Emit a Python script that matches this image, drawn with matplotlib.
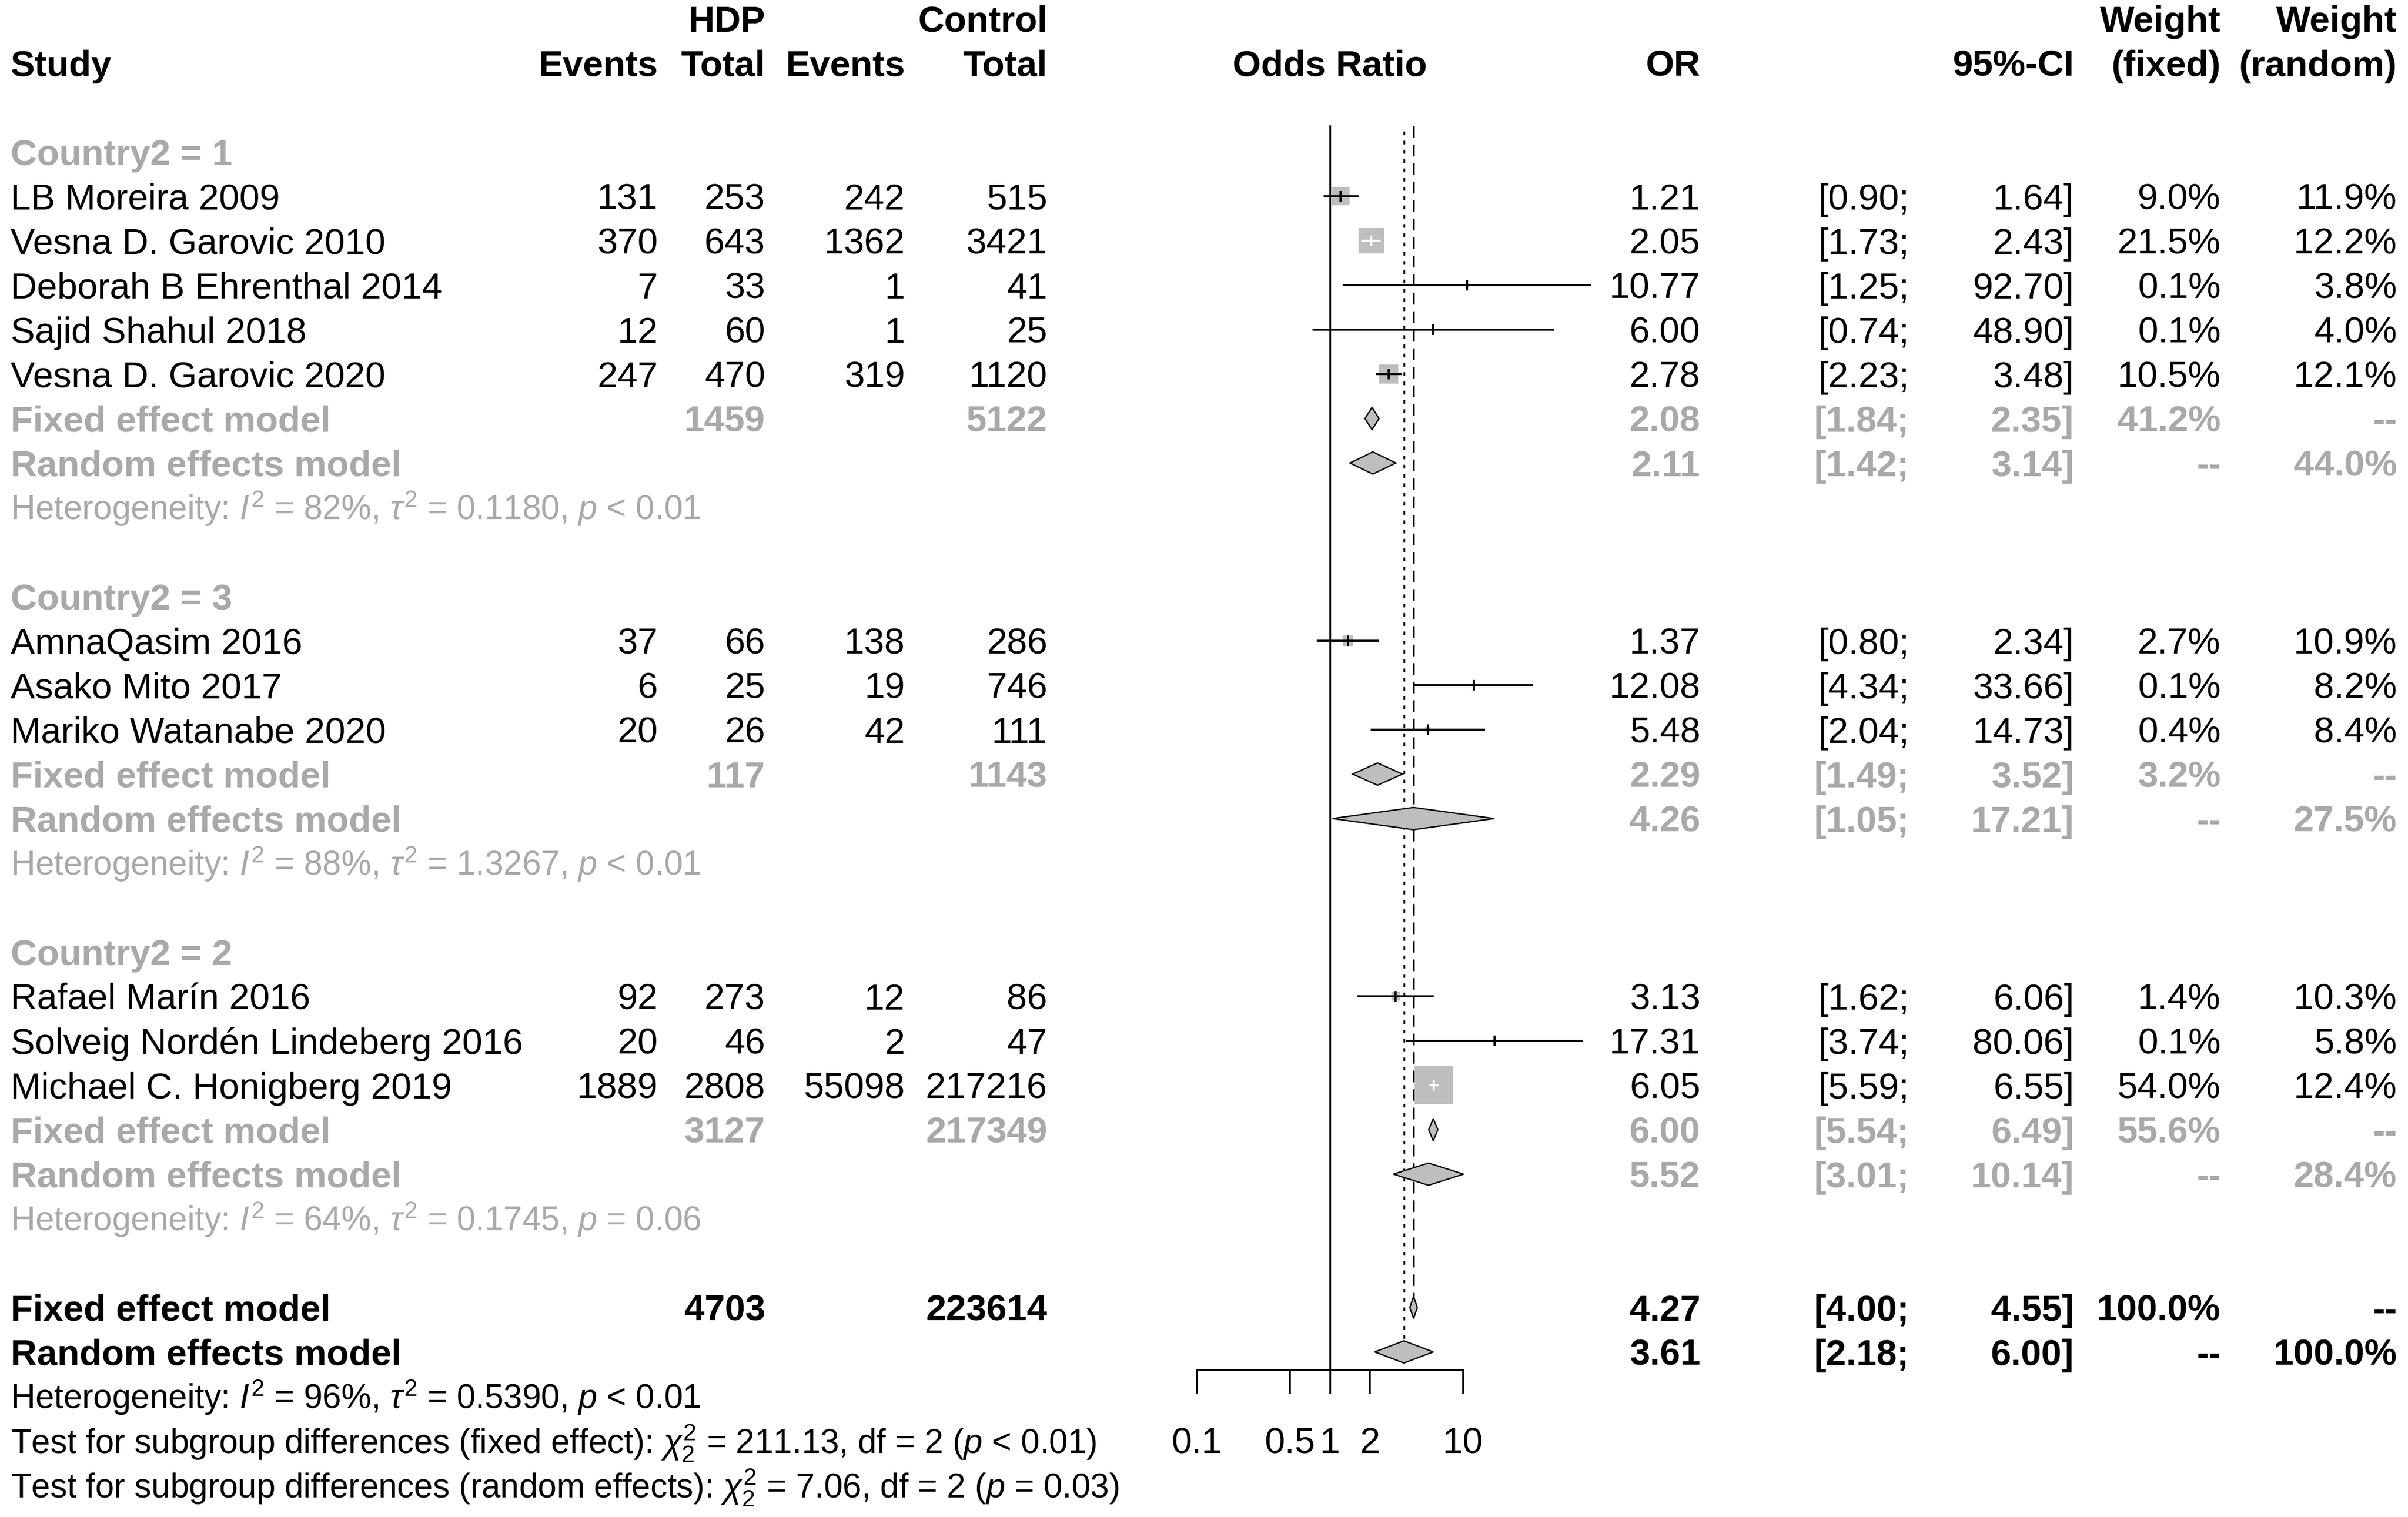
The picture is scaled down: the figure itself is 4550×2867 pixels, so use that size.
import matplotlib
matplotlib.use("Agg")
import matplotlib.pyplot as plt
from matplotlib.patches import Polygon
from matplotlib.ticker import NullLocator
import numpy as np

plt.rcParams['font.family'] = ['Liberation Sans', 'DejaVu Sans']
plt.rcParams['mathtext.fontset'] = 'custom'
plt.rcParams['mathtext.rm'] = 'Liberation Sans'
plt.rcParams['mathtext.it'] = 'Liberation Sans:italic'
plt.rcParams['mathtext.bf'] = 'Liberation Sans:bold'
plt.rcParams['lines.scale_dashes'] = False

# ---------------- data ----------------
studies = ["LB Moreira 2009", "Vesna D. Garovic 2010", "Deborah B Ehrenthal 2014",
           "Sajid Shahul 2018", "Vesna D. Garovic 2020",
           "AmnaQasim 2016", "Asako Mito 2017", "Mariko Watanabe 2020",
           "Rafael Marín 2016", "Solveig Nordén Lindeberg 2016", "Michael C. Honigberg 2019"]
study_group = [0, 0, 0, 0, 0, 1, 1, 1, 2, 2, 2]
hdp_events = [131, 370, 7, 12, 247, 37, 6, 20, 92, 20, 1889]
hdp_total = [253, 643, 33, 60, 470, 66, 25, 26, 273, 46, 2808]
ctrl_events = [242, 1362, 1, 1, 319, 138, 19, 42, 12, 2, 55098]
ctrl_total = [515, 3421, 41, 25, 1120, 286, 746, 111, 86, 47, 217216]
or_est = [1.21, 2.05, 10.77, 6.00, 2.78, 1.37, 12.08, 5.48, 3.13, 17.31, 6.05]
ci_lo = [0.90, 1.73, 1.25, 0.74, 2.23, 0.80, 4.34, 2.04, 1.62, 3.74, 5.59]
ci_hi = [1.64, 2.43, 92.70, 48.90, 3.48, 2.34, 33.66, 14.73, 6.06, 80.06, 6.55]
w_fixed = [9.0, 21.5, 0.1, 0.1, 10.5, 2.7, 0.1, 0.4, 1.4, 0.1, 54.0]
w_random = [11.9, 12.2, 3.8, 4.0, 12.1, 10.9, 8.2, 8.4, 10.3, 5.8, 12.4]

sub_labels = ["Country2 = 1", "Country2 = 3", "Country2 = 2"]
sub_hdp_total = [1459, 117, 3127]
sub_ctrl_total = [5122, 1143, 217349]
sub_fix_or = [2.08, 2.29, 6.00]
sub_fix_lo = [1.84, 1.49, 5.54]
sub_fix_hi = [2.35, 3.52, 6.49]
sub_fix_w = [41.2, 3.2, 55.6]
sub_ran_or = [2.11, 4.26, 5.52]
sub_ran_lo = [1.42, 1.05, 3.01]
sub_ran_hi = [3.14, 17.21, 10.14]
sub_ran_w = [44.0, 27.5, 28.4]
sub_i2 = [82, 88, 64]
sub_tau2 = ["0.1180", "1.3267", "0.1745"]
sub_p = ["< 0.01", "< 0.01", "= 0.06"]

all_hdp_total = 4703
all_ctrl_total = 223614
all_fix = [4.27, 4.00, 4.55]
all_ran = [3.61, 2.18, 6.00]
all_i2, all_tau2, all_p = 96, "0.5390", "< 0.01"
test_names = ["fixed effect", "random effects"]
test_chi2 = ["211.13", "7.06"]
test_df = [2, 2]
test_p = ["< 0.01", "= 0.03"]

tick_vals = [0.1, 0.5, 1, 2, 10]
tick_labels = ["0.1", "0.5", "1", "2", "10"]

# ---------------- layout / style ----------------
W, H, DPI = 4550, 2867, 100
FS = 49.6
FS_HET = FS * 11 / 12 * 1.01
ROW0_PX, ROW_PX = 119, 84
GRAY_TXT = "#A9A9A9"
SQ = "#BEBEBE"
DIA = "#BEBEBE"
LW = 2.4
CI_LW = 2.8

fig = plt.figure(figsize=(W / DPI, H / DPI), dpi=DPI)
ytop = -ROW0_PX / ROW_PX
ybot = (H - ROW0_PX) / ROW_PX

ax_t = fig.add_axes([0, 0, 1, 1])
ax_t.set_xlim(0, W)
ax_t.set_ylim(ybot, ytop)
ax_t.axis('off')

PL, PR = 2261, 2764
ax_f = fig.add_axes([PL / W, 0, (PR - PL) / W, 1])
ax_f.patch.set_alpha(0)
ax_f.set_xscale('log')
ax_f.set_xlim(tick_vals[0], tick_vals[-1])
ax_f.set_ylim(ybot, ytop)

C_STUDY, C_EV1, C_TOT1, C_EV2, C_TOT2 = 20, 1243, 1446, 1710, 1979
C_OR, C_LO, C_HI, C_WF, C_WR = 3213, 3607, 3919, 4196, 4529


def txt(x, row, s, ha='right', color='black', bold=False, ax=None, fs=FS):
    off = fs * DPI / 72 * 0.716 / 2 / ROW_PX
    (ax or ax_t).text(x, row + off, s, ha=ha, va='baseline', fontsize=fs,
                      fontweight='bold' if bold else 'normal', color=color)


def stat_cols(row, est, lo, hi, wf, wr, color, bold):
    txt(C_OR, row, f"{est:.2f}", color=color, bold=bold)
    txt(C_LO, row, f"[{lo:.2f};", color=color, bold=bold)
    txt(C_HI, row, f"{hi:.2f}]", color=color, bold=bold)
    txt(C_WF, row, "--" if wf is None else f"{wf:.1f}%", color=color, bold=bold)
    txt(C_WR, row, "--" if wr is None else f"{wr:.1f}%", color=color, bold=bold)


def diamond(row, est, lo, hi):
    ax_f.add_patch(Polygon([[lo, row], [est, row - 0.25], [hi, row], [est, row + 0.25]],
                           closed=True, fc=DIA, ec='black', lw=1.8, clip_on=False, zorder=3))


# header
txt(C_STUDY, 0, "Study", ha='left', bold=True)
txt(C_EV1, 0, "Events", bold=True)
txt(C_TOT1, -1, "HDP", bold=True)
txt(C_TOT1, 0, "Total", bold=True)
txt(C_EV2, 0, "Events", bold=True)
txt(C_TOT2, -1, "Control", bold=True)
txt(C_TOT2, 0, "Total", bold=True)
txt(1, 0, "Odds Ratio", ha='center', bold=True, ax=ax_f)
txt(C_OR, 0, "OR", bold=True)
txt(C_HI, 0, "95%-CI", bold=True)
txt(C_WF, -1, "Weight", bold=True)
txt(C_WF, 0, "(fixed)", bold=True)
txt(C_WR, -1, "Weight", bold=True)
txt(C_WR, 0, "(random)", bold=True)

px_per_dec = (PR - PL) / (np.log10(tick_vals[-1]) - np.log10(tick_vals[0]))

row = 2
for g in range(len(sub_labels)):
    txt(C_STUDY, row, sub_labels[g], ha='left', color=GRAY_TXT, bold=True)
    row += 1
    for i in [k for k in range(len(studies)) if study_group[k] == g]:
        txt(C_STUDY, row, studies[i], ha='left')
        txt(C_EV1, row, str(hdp_events[i]))
        txt(C_TOT1, row, str(hdp_total[i]))
        txt(C_EV2, row, str(ctrl_events[i]))
        txt(C_TOT2, row, str(ctrl_total[i]))
        stat_cols(row, or_est[i], ci_lo[i], ci_hi[i], w_fixed[i], w_random[i], 'black', False)
        side_px = 13.5 * w_fixed[i] ** 0.42
        ax_f.plot(or_est[i], row, marker='s', ms=side_px * 72 / DPI, mfc=SQ, mec=SQ,
                  mew=0, ls='none', clip_on=False, zorder=3)
        half = 10 ** (side_px / 2 / px_per_dec)
        inside = ci_lo[i] >= or_est[i] / half and ci_hi[i] <= or_est[i] * half
        col = 'white' if inside else 'black'
        ax_f.plot([ci_lo[i], ci_hi[i]], [row, row], color=col, lw=CI_LW,
                  solid_capstyle='butt', clip_on=False, zorder=4)
        ax_f.plot(or_est[i], row, marker='|', ms=15, mew=CI_LW, color=col,
                  ls='none', clip_on=False, zorder=4)
        row += 1
    # fixed
    txt(C_STUDY, row, "Fixed effect model", ha='left', color=GRAY_TXT, bold=True)
    txt(C_TOT1, row, str(sub_hdp_total[g]), color=GRAY_TXT, bold=True)
    txt(C_TOT2, row, str(sub_ctrl_total[g]), color=GRAY_TXT, bold=True)
    stat_cols(row, sub_fix_or[g], sub_fix_lo[g], sub_fix_hi[g], sub_fix_w[g], None, GRAY_TXT, True)
    diamond(row, sub_fix_or[g], sub_fix_lo[g], sub_fix_hi[g])
    row += 1
    txt(C_STUDY, row, "Random effects model", ha='left', color=GRAY_TXT, bold=True)
    stat_cols(row, sub_ran_or[g], sub_ran_lo[g], sub_ran_hi[g], None, sub_ran_w[g], GRAY_TXT, True)
    diamond(row, sub_ran_or[g], sub_ran_lo[g], sub_ran_hi[g])
    row += 1
    txt(C_STUDY, row, r"Heterogeneity: $\mathit{I}^{2}$ = " + f"{sub_i2[g]}%, " +
        r"$\tau^{2}$ = " + f"{sub_tau2[g]}, " + r"$\mathit{p}$ " + sub_p[g],
        ha='left', color=GRAY_TXT, fs=FS_HET)
    row += 2

# overall
row_fix = row
txt(C_STUDY, row, "Fixed effect model", ha='left', bold=True)
txt(C_TOT1, row, str(all_hdp_total), bold=True)
txt(C_TOT2, row, str(all_ctrl_total), bold=True)
stat_cols(row, all_fix[0], all_fix[1], all_fix[2], 100.0, None, 'black', True)
diamond(row, *all_fix)
row += 1
row_ran = row
txt(C_STUDY, row, "Random effects model", ha='left', bold=True)
stat_cols(row, all_ran[0], all_ran[1], all_ran[2], None, 100.0, 'black', True)
diamond(row, *all_ran)
row += 1
txt(C_STUDY, row, r"Heterogeneity: $\mathit{I}^{2}$ = " + f"{all_i2}%, " +
    r"$\tau^{2}$ = " + f"{all_tau2}, " + r"$\mathit{p}$ " + all_p, ha='left', fs=FS_HET)
row += 1
for k in range(2):
    txt(C_STUDY, row, f"Test for subgroup differences ({test_names[k]}): " +
        r"$\chi^{2}_{2}$ = " + f"{test_chi2[k]}, df = {test_df[k]} (" +
        r"$\mathit{p}$ " + f"{test_p[k]})", ha='left', fs=FS_HET)
    row += 1

# reference lines
line_top = 1.42
axis_row = row_ran + 0.4
ax_f.plot([1, 1], [line_top, axis_row], color='black', lw=LW, zorder=1, clip_on=False)
ax_f.plot([all_fix[0]] * 2, [line_top, row_fix - 0.25], color='black', lw=LW,
          ls=(0, (15.8, 9.4)), zorder=1, clip_on=False)
ax_f.plot([all_ran[0]] * 2, [line_top + 0.12, row_ran - 0.25], color='black', lw=LW,
          ls=(0, (5, 7.6)), zorder=1, clip_on=False)

# axis
for s in ['top', 'left', 'right']:
    ax_f.spines[s].set_visible(False)
ax_f.spines['bottom'].set_position(('data', axis_row))
ax_f.spines['bottom'].set_linewidth(LW)
ax_f.yaxis.set_visible(False)
ax_f.set_xticks(tick_vals)
ax_f.set_xticklabels(tick_labels)
ax_f.xaxis.set_minor_locator(NullLocator())
ax_f.tick_params(axis='x', which='major', direction='out', length=32.4, width=LW,
                 labelsize=FS, pad=45)

fig.savefig("out.png", dpi=DPI, facecolor='white')
